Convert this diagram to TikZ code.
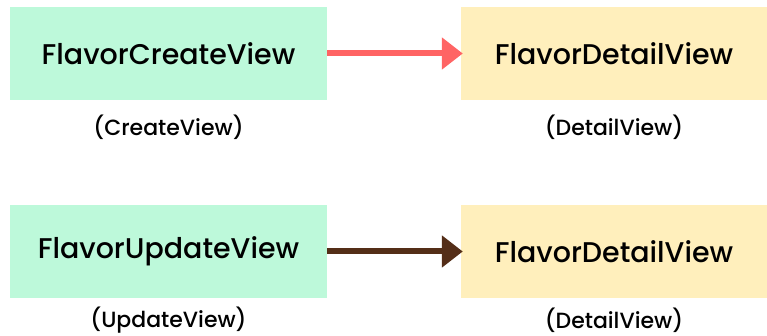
\documentclass[tikz,border=0pt]{standalone}
\usepackage{fontspec}
\setmainfont{Poppins}[UprightFont={* Medium}]
\usetikzlibrary{arrows.meta}
\definecolor{boxgreen}{HTML}{BDF9DA}
\definecolor{boxyellow}{HTML}{FFEFBC}
\definecolor{arrred}{HTML}{FF6464}
\definecolor{arrbrown}{HTML}{542E18}
\tikzset{
  viewbox/.style={minimum width=#1, minimum height=93pt, inner sep=0pt, font=\fontsize{28.5}{32}\selectfont},
  greenbox/.style={viewbox=317pt, fill=boxgreen},
  yellowbox/.style={viewbox=306pt, fill=boxyellow},
  caption/.style={inner sep=0pt, font=\fontsize{22}{26}\selectfont},
  conn/.style={line width=6pt, -{Triangle[length=21pt,width=31pt]}, shorten >=-2pt},
}
\begin{document}
\begin{tikzpicture}[x=1pt,y=-1pt]
\useasboundingbox (0,0) rectangle (767,336);
\node[greenbox] (create) at (168.5,53.5) {FlavorCreateView};
\node[yellowbox] (detail1) at (614,53.5) {FlavorDetailView};
\node[caption] (cvlabel) at (168.5,127) {(CreateView)};
\node[caption] (dv1label) at (614,127) {(DetailView)};
\node[greenbox] (update) at (168.5,251.5) {FlavorUpdateView};
\node[yellowbox] (detail2) at (614,251.5) {FlavorDetailView};
\node[caption] (uvlabel) at (168.5,320) {(UpdateView)};
\node[caption] (dv2label) at (614,320) {(DetailView)};
\draw[conn, arrred] (create.east) -- (detail1.west);
\draw[conn, arrbrown] (update.east) -- (detail2.west);
\end{tikzpicture}
\end{document}
